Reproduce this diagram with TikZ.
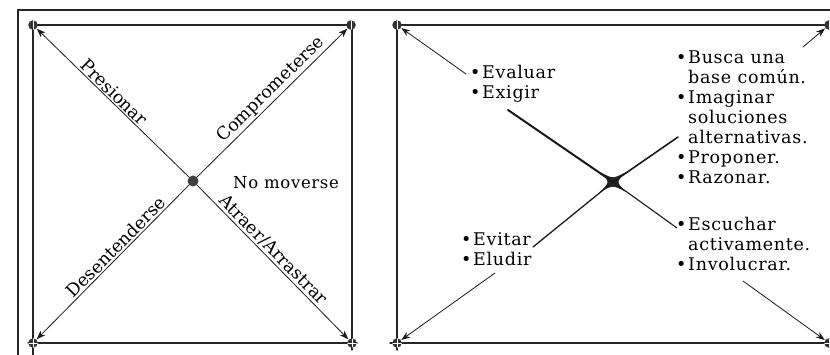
\documentclass[tikz,border=0pt]{standalone}
\usepackage{fontspec}
\setmainfont{DejaVu Serif}[LetterSpace=4]
\newfontfamily\slopefont{DejaVu Serif}
\usetikzlibrary{arrows.meta}
\tikzset{
    every picture/.style={line cap=round,line join=round},
    frame/.style={draw=black!85,line width=1.2pt},
    cornerdot/.style={circle,fill=black!80,minimum size=9.5pt,inner sep=0pt,outer sep=0.5pt,
      path picture={\draw[white,line width=0.7pt] (path picture bounding box.north) -- (path picture bounding box.south);}},
    crossdot/.style={cornerdot,
      path picture={\draw[white,line width=0.7pt] (path picture bounding box.north) -- (path picture bounding box.south)
        (path picture bounding box.west) -- (path picture bounding box.east);}},
    hubdot/.style={circle,fill=black!75,minimum size=11pt,inner sep=0pt,outer sep=0.5pt},
    flowarrow/.style={-{Stealth[length=9pt,width=6.5pt]},draw=black!90,line width=0.8pt},
    spoke/.style={draw=black!90,line width=1.6pt},
    lbl/.style={font=\fontsize{16.5}{20}\selectfont,inner sep=2pt},
    slopelbl/.style={font=\slopefont\fontsize{17.5}{20}\selectfont,inner sep=1.5pt,sloped,above},
    blk/.style={font=\fontsize{17.5}{20}\selectfont,align=left,anchor=north west,inner sep=0pt}
}
\newcommand{\bul}{\makebox[12pt][l]{\textbullet}}
\newcommand{\ind}{\hspace*{12pt}}
\begin{document}
\begin{tikzpicture}[x=1pt,y=-1pt]
  \useasboundingbox (0,0) rectangle (830,355);
  % frames
  \draw[frame] (18,355) -- (18,10) -- (830,10);
  \draw[frame] (33,355) -- (33,25) -- (352,25) -- (352,350);
  \draw[frame] (28,343) -- (357,343);
  \draw[frame] (397,350) -- (397,25) -- (830,25);
  \draw[frame] (390,343) -- (830,343);

  % left panel
  \node[cornerdot] (lTL) at (33,25) {};
  \node[cornerdot] (lTR) at (351,25) {};
  \node[crossdot] (lBL) at (33,343) {};
  \node[crossdot] (lBR) at (352,343) {};
  \node[hubdot] (lc) at (193,181) {};
  \draw[flowarrow] (lc) -- node[slopelbl,pos=.53]{Presionar} (lTL);
  \draw[flowarrow] (lc) -- node[slopelbl,pos=.54]{Comprometerse} (lTR);
  \draw[flowarrow] (lc) -- node[slopelbl,pos=.44]{Desentenderse} (lBL);
  \draw[flowarrow] (lc) -- node[slopelbl,pos=.46]{Atraer/Arrastrar} (lBR);
  \node[lbl,anchor=base west,inner sep=0pt] (stay) at (233,189) {No moverse};

  % right panel
  \node[cornerdot] (rTL) at (397,25) {};
  \node[cornerdot] (rTR) at (829,25) {};
  \node[crossdot] (rBL) at (397,343) {};
  \node[crossdot] (rBR) at (829,343) {};
  \node[coordinate] (rc) at (613,182) {};
  \fill[black!85,shift={(rc)}] (-13,-10) .. controls (0,-3) .. (13,-10)
    .. controls (3,0) .. (13,10) .. controls (0,3) .. (-13,10)
    .. controls (-3,0) .. cycle;

  \node[blk] (ask) at (470,65) {\bul Evaluar\\\bul Exigir};
  \node[blk] (seek) at (676,50.5) {\bul Busca una\\\ind base común.\\\bul Imaginar\\\ind soluciones\\\ind alternativas.\\\bul Proponer.\\\bul Razonar.};
  \node[blk] (avoid) at (461,232) {\bul Evitar\\\bul Eludir};
  \node[blk] (listen) at (676,217) {\bul Escuchar\\\ind activamente.\\\bul Involucrar.};

  \coordinate (ulEnd) at (508,110);
  \coordinate (urEnd) at (678,137);
  \coordinate (llEnd) at (533,247);
  \coordinate (lrEnd) at (677,228);
  \coordinate (ulStart) at (466,74);
  \coordinate (urStart) at (803,47);
  \coordinate (llStart) at (495,273);
  \coordinate (lrStart) at (743,281);

  \draw[spoke,line width=2pt] (rc) -- (ulEnd);
  \draw[spoke] (rc) -- (urEnd);
  \draw[spoke,line width=1.3pt] (rc) -- (llEnd);
  \draw[spoke,line width=1.1pt] (rc) -- (lrEnd);
  \draw[flowarrow] (ulStart) -- (rTL);
  \draw[flowarrow] (urStart) -- (rTR);
  \draw[flowarrow] (llStart) -- (rBL);
  \draw[flowarrow] (lrStart) -- (rBR);
\end{tikzpicture}
\end{document}
